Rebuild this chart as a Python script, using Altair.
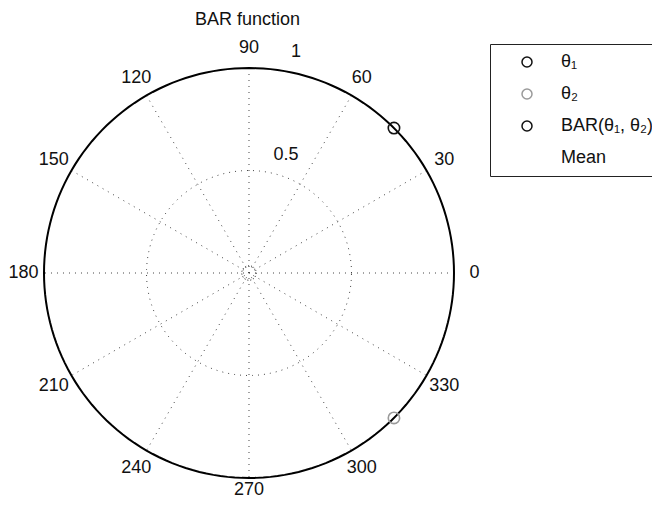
import numpy as np
import pandas as pd
import altair as alt

FONT = "Liberation Sans"

# ---- data ----
series_names = ["θ₁", "θ₂", "BAR(θ₁, θ₂)", "Mean"]
series_colors = ["#111111", "#9a9a9a", "#111111", "transparent"]

point_series = ["θ₁", "θ₂"]
point_theta = [45, 315]      # degrees
point_rho = [1.0, 1.0]

bar_series = ["BAR(θ₁, θ₂)"]
bar_theta = [0]
bar_rho = [0.0]

angle_ticks = [0, 30, 60, 90, 120, 150, 180, 210, 240, 270, 300, 330]
angle_label_rho = [1.1, 1.1, 1.1, 1.1, 1.1, 1.1, 1.1, 1.1, 1.1, 1.06, 1.1, 1.1]

radial_ticks = [0.5, 1.0]
radial_labels = ["0.5", "1"]
radial_label_theta = [72.6, 78.0]
radial_label_rho = [0.604, 1.1]

spoke_angles = [0, 30, 60, 90, 120, 150]

# ---- geometry tables ----
phi = np.arange(0, 361, 2)
circles = pd.DataFrame(
    [{"r": r, "phi": float(p), "k": i} for r in radial_ticks for i, p in enumerate(phi)]
)
pts = pd.DataFrame({"series": point_series, "theta": point_theta, "rho": point_rho})
bar = pd.DataFrame({"series": bar_series, "theta": bar_theta, "rho": bar_rho})
alab = pd.DataFrame({"a": angle_ticks, "rho": angle_label_rho,
                     "label": [str(a) for a in angle_ticks]})
rlab = pd.DataFrame({"label": radial_labels, "a": radial_label_theta, "rho": radial_label_rho})
spokes = pd.DataFrame({"a": spoke_angles})

# pixel-equal scales (205 px per unit)
xs = alt.Scale(domain=[-1.1756, 1.9659], nice=False, zero=False)
ys = alt.Scale(domain=[-1.1122, 1.2927], nice=False, zero=False)
X = lambda f: alt.X(f, type="quantitative", scale=xs, axis=None)
Y = lambda f: alt.Y(f, type="quantitative", scale=ys, axis=None)

color_scale = alt.Scale(domain=series_names, range=series_colors)

grid_circle = alt.Chart(circles[circles.r < 1]).transform_calculate(
    x="datum.r*cos(datum.phi*PI/180)", y="datum.r*sin(datum.phi*PI/180)"
).mark_line(color="#444444", strokeWidth=1, strokeDash=[1, 5]).encode(
    x=X("x"), y=Y("y"), order="k:Q", detail="r:Q"
)
outer_circle = alt.Chart(circles[circles.r == 1]).transform_calculate(
    x="datum.r*cos(datum.phi*PI/180)", y="datum.r*sin(datum.phi*PI/180)"
).mark_line(color="#000000", strokeWidth=2).encode(
    x=X("x"), y=Y("y"), order="k:Q"
)
spoke_lines = alt.Chart(spokes).transform_calculate(
    x="cos(datum.a*PI/180)", y="sin(datum.a*PI/180)",
    x2="-cos(datum.a*PI/180)", y2="-sin(datum.a*PI/180)"
).mark_rule(color="#444444", strokeWidth=1, strokeDash=[1, 5]).encode(
    x=X("x"), y=Y("y"), x2="x2:Q", y2="y2:Q"
)
angle_text = alt.Chart(alab).transform_calculate(
    x="datum.rho*cos(datum.a*PI/180)", y="datum.rho*sin(datum.a*PI/180)"
).mark_text(font=FONT, fontSize=18, color="#111111", align="center", baseline="middle").encode(
    x=X("x"), y=Y("y"), text="label:N"
)
radial_text = alt.Chart(rlab).transform_calculate(
    x="datum.rho*cos(datum.a*PI/180)", y="datum.rho*sin(datum.a*PI/180)"
).mark_text(font=FONT, fontSize=18, color="#111111", align="center", baseline="middle").encode(
    x=X("x"), y=Y("y"), text="label:N"
)
legend = alt.Legend(
    title=None, orient="none", legendX=482, legendY=36,
    strokeColor="#222222", fillColor="white", padding=9,
    symbolOffset=19, labelOffset=25, labelFont=FONT, labelFontSize=18,
    labelColor="#111111", rowPadding=14, symbolType="circle", symbolSize=100,
    symbolStrokeWidth=1.5, symbolFillColor="transparent", cornerRadius=0,
    labelLimit=300,
)
points = alt.Chart(pts).transform_calculate(
    x="datum.rho*cos(datum.theta*PI/180)", y="datum.rho*sin(datum.theta*PI/180)"
).mark_point(filled=False, size=130, strokeWidth=1.6, opacity=1).encode(
    x=X("x"), y=Y("y"),
    color=alt.Color("series:N", scale=color_scale, legend=legend),
)
bar_point = alt.Chart(bar).transform_calculate(
    x="datum.rho*cos(datum.theta*PI/180)", y="datum.rho*sin(datum.theta*PI/180)"
).mark_point(filled=False, size=210, strokeWidth=1, strokeDash=[1, 2], opacity=1).encode(
    x=X("x"), y=Y("y"),
    color=alt.Color("series:N", scale=color_scale, legend=legend),
)

chart = alt.layer(
    grid_circle, spoke_lines, outer_circle, angle_text, radial_text, bar_point, points
).properties(
    width=644, height=493,
    title=alt.TitleParams("BAR function", font=FONT, fontSize=18, fontWeight="normal",
                          color="#111111", anchor="start", dx=187, baseline="top",
                          offset=0, dy=21),
    autosize=alt.AutoSizeParams(type="none"),
    padding=0,
).configure_view(stroke=None)

chart.save("out.html", embed_options={"renderer": "svg", "actions": False})
